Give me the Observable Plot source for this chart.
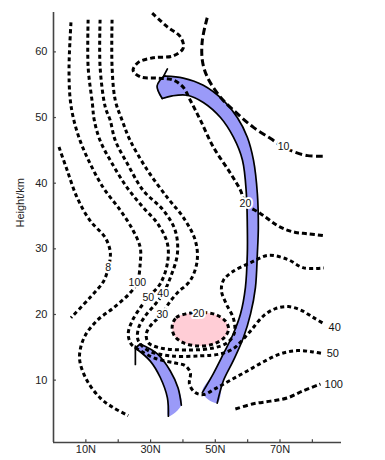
<!DOCTYPE html>
<html><head><meta charset="utf-8">
<script src="https://cdn.jsdelivr.net/npm/d3@7"></script>
<script src="https://cdn.jsdelivr.net/npm/@observablehq/plot@0.6"></script>
<style>html,body{margin:0;padding:0;background:#fff;}</style>
</head><body><div id="chart"></div>
<script>
// Axis ticks
const xTicks = [10, 20, 30, 40, 50, 60, 70, 80];
const xLabels = [10, 30, 50, 70];
const yTicks = [10, 20, 30, 40, 50, 60];

// Contours: [latitude °N, height km]
const c8 = [[1.7,45.5],[4.2,42.0],[7.3,37.8],[11.3,34.3],[16.0,31.7],[17.5,29.7],[17.5,28.5],[16.9,27.0],[15.4,25.0],[11.3,22.6],[5.4,19.5]];
const c100a = [[5.4,64.5],[4.8,57.7],[5.1,53.1],[6.1,50.0],[8.2,46.5],[11.3,43.0],[15.4,39.3],[20.6,35.9],[24.6,32.8],[26.8,30.2],[26.8,27.8],[25.9,24.9],[23.7,23.3],[18.5,21.0],[13.5,19.1],[9.8,16.8],[8.2,14.5],[8.2,12.7],[10.4,9.9],[14.4,7.3],[18.5,5.8],[23.1,4.6]];
const c50 = [[10.7,64.9],[10.7,57.7],[12.0,52.2],[12.6,49.6],[14.4,46.5],[18.1,43.0],[22.8,39.3],[27.7,36.3],[32.1,33.9],[35.2,30.8],[35.2,27.8],[33.0,24.7],[29.3,22.6],[26.8,21.0],[24.3,19.0],[23.1,17.1],[24.0,15.5],[26.8,14.5],[31.5,13.3],[37.6,12.6],[40.7,12.2],[42.3,11.1],[42.0,9.4],[43.8,8.1],[46.3,7.8],[50.0,8.7],[54.7,10.0],[59.9,11.4],[64.9,12.8],[70.1,14.0],[75.4,14.5],[80.1,14.3],[83.5,14.0]];
const c40 = [[14.4,64.9],[14.4,57.7],[16.0,51.6],[17.5,49.6],[19.1,46.5],[22.8,43.0],[27.7,38.9],[33.9,35.9],[37.6,32.8],[38.3,29.3],[36.1,25.6],[33.9,23.2],[31.5,21.6],[28.4,19.8],[26.2,17.8],[26.2,16.0],[29.3,14.5],[36.1,13.7],[45.4,13.7],[51.6,14.0],[55.6,14.8],[57.8,15.8],[60.9,17.5],[64.9,19.8],[68.6,20.9],[72.6,21.2],[76.3,20.7],[80.1,19.6],[83.2,18.7]];
const c30 = [[18.1,64.9],[18.1,57.7],[19.1,52.6],[21.2,49.6],[23.7,46.5],[29.0,42.0],[35.2,37.8],[40.1,34.8],[43.8,31.3],[44.4,28.2],[42.3,25.2],[38.3,23.3],[35.5,21.6],[33.6,20.0],[30.5,18.6],[28.7,17.1],[29.3,15.7],[33.0,14.9],[42.3,14.6],[49.4,14.9],[53.7,15.7],[55.9,17.2],[55.6,19.4],[53.4,21.6],[51.9,23.6],[52.5,25.2],[55.3,26.5],[60.9,27.9],[66.4,29.0],[72.3,28.4],[77.3,27.1],[83.5,27.1]];
const c20 = [[30.5,65.9],[35.2,63.8],[39.2,62.3],[40.1,60.6],[37.0,59.4],[30.8,59.1],[26.2,58.4],[24.6,57.2],[26.8,56.2],[32.1,56.0],[37.0,55.7],[40.1,54.6],[42.3,52.6],[45.4,49.6],[49.4,45.5],[54.7,41.5],[57.8,38.9],[59.3,36.9],[63.9,35.4],[70.1,33.3],[74.8,32.5],[78.5,32.3],[83.5,32.0]];
const c10 = [[47.5,65.2],[46.0,61.8],[46.0,58.7],[47.5,56.2],[51.6,53.1],[56.8,50.6],[61.8,48.5],[67.1,46.8],[71.1,45.5],[74.8,44.7],[78.5,44.2],[83.2,44.1]];
const c100b = [[56.2,5.6],[61.8,6.4],[67.1,6.8],[72.3,7.3],[77.3,8.4],[82.5,9.4]];
const pinkCore = [[36.7,18.3],[37.9,19.5],[41.0,20.1],[45.4,20.3],[50.0,20.0],[53.1,19.0],[54.1,17.8],[52.8,16.5],[49.4,15.5],[44.8,15.2],[40.1,15.7],[37.3,16.8]];

// Jet bands
const band1Outer = [[34.5,56.3],[40.1,56.0],[46.3,54.9],[52.5,52.6],[56.8,50.0],[59.9,47.0],[61.8,43.5],[63.0,38.4],[63.3,33.3],[63.0,29.3],[62.4,24.1],[60.9,20.1],[58.7,16.5],[55.6,13.0],[52.5,9.9],[50.6,6.5]];
const band1Inner = [[46.0,8.1],[49.4,11.0],[52.5,14.0],[55.6,17.1],[57.8,20.1],[59.3,24.1],[59.9,29.3],[59.9,33.3],[59.6,38.4],[58.4,43.5],[55.6,47.0],[51.6,50.0],[46.3,52.3],[41.3,53.4],[36.7,53.3],[33.6,52.9]];
const band1End = [[33.6,52.9],[32.0,54.8],[33.9,56.2],[34.5,56.3]];
const band1Tick = [[33.9,56.2],[35.2,57.4]];
const band2Left = [[25.3,14.9],[29.9,12.9],[33.0,10.4],[35.2,7.3],[35.5,4.5]];
const band2Right = [[26.8,15.5],[32.1,14.0],[36.1,11.4],[38.5,8.8],[39.5,6.2]];
const band2Tick = [[25.3,15.2],[25.3,12.4]];

// Labels
const inlineLabels = [
  {lat:16.9, h:27.1, t:"8"},
  {lat:25.9, h:24.9, t:"100"},
  {lat:29.3, h:22.6, t:"50"},
  {lat:33.9, h:23.2, t:"40"},
  {lat:33.6, h:20.0, t:"30"},
  {lat:44.8, h:20.1, t:"20"},
  {lat:59.3, h:36.9, t:"20"},
  {lat:71.1, h:45.5, t:"10"}
];
const endLabels = [
  {lat:86.9, h:18.0, t:"40"},
  {lat:86.3, h:14.0, t:"50"},
  {lat:86.6, h:9.4, t:"100"}
];

const rows = (pts, id) => pts.map(([lat, h]) => ({lat, h, id}));
const dashed = (pts, dash) => Plot.line(rows(pts), {x:"lat", y:"h", curve:"catmull-rom", stroke:"#000", strokeWidth:3, strokeDasharray:dash || "4,3", strokeLinecap:"butt"});
const blue = "#9a9af8";

const chart = Plot.plot({
  width: 385, height: 460,
  marginLeft: 53, marginRight: 44, marginTop: 12, marginBottom: 18,
  style: {fontFamily: "'Liberation Sans', Arial, sans-serif", background: "#fff"},
  x: {domain: [0, 89], axis: null},
  y: {domain: [0.5, 66], axis: null},
  marks: [
    Plot.line(rows(pinkCore), {x:"lat", y:"h", curve:"catmull-rom-closed", fill:"#ffcdd6", stroke:"none"}),
    Plot.line(rows([...band1Outer, ...band1Inner, ...band1End.slice(1)]), {x:"lat", y:"h", curve:"catmull-rom", fill:blue, stroke:"none"}),
    Plot.line(rows([...band2Left, ...band2Right.slice().reverse()]), {x:"lat", y:"h", curve:"catmull-rom", fill:blue, stroke:"none"}),
    Plot.line([...rows(band1Outer,"o"), ...rows(band1Inner,"i"), ...rows(band1End,"e"), ...rows(band1Tick,"t"),
               ...rows(band2Left,"l"), ...rows(band2Right,"r"), ...rows([band2Left[0], band2Right[0]],"top"), ...rows(band2Tick,"t2")],
      {x:"lat", y:"h", z:"id", curve:"catmull-rom", stroke:"#000", strokeWidth:1.7}),
    Plot.line(rows(pinkCore), {x:"lat", y:"h", curve:"catmull-rom-closed", stroke:"#000", strokeWidth:3, strokeDasharray:"4,3", strokeLinecap:"butt"}),
    dashed(c8), dashed(c100a), dashed(c50), dashed(c40), dashed(c30), dashed(c20, "5,3"),
    dashed(c10, "7,3.5"), dashed(c100b, "5,3"),
    Plot.text(inlineLabels, {x:"lat", y:"h", text:"t", fontSize:10.5, fill:"#111", stroke:"#fff", strokeWidth:4}),
    Plot.text(endLabels, {x:"lat", y:"h", text:"t", fontSize:11, fill:"#111"}),
    // axes
    Plot.ruleX([0], {y1:0.5, y2:66, stroke:"#444", strokeWidth:1.6}),
    Plot.ruleY([0.5], {x1:0, x2:89, stroke:"#444", strokeWidth:1.4}),
    Plot.ruleX(xTicks, {x:d=>d, y1:0.5, y2:0.9, stroke:"#444", strokeWidth:1.2}),
    Plot.ruleY(yTicks, {y:d=>d, x1:0, x2:0.9, stroke:"#444", strokeWidth:1.2}),
    Plot.text(xLabels, {x:d=>d, frameAnchor:"bottom", dy:10, text:d=>d+"N", fontSize:11, fill:"#222"}),
    Plot.text(yTicks, {y:d=>d, frameAnchor:"left", dx:-6, textAnchor:"end", text:d=>String(d), fontSize:11, fill:"#222"}),
    Plot.text(["Height/km"], {frameAnchor:"left", dx:-33, rotate:-90, fontSize:11, fill:"#222"})
  ]
});
document.getElementById("chart").appendChild(chart);
</script>
</body></html>
